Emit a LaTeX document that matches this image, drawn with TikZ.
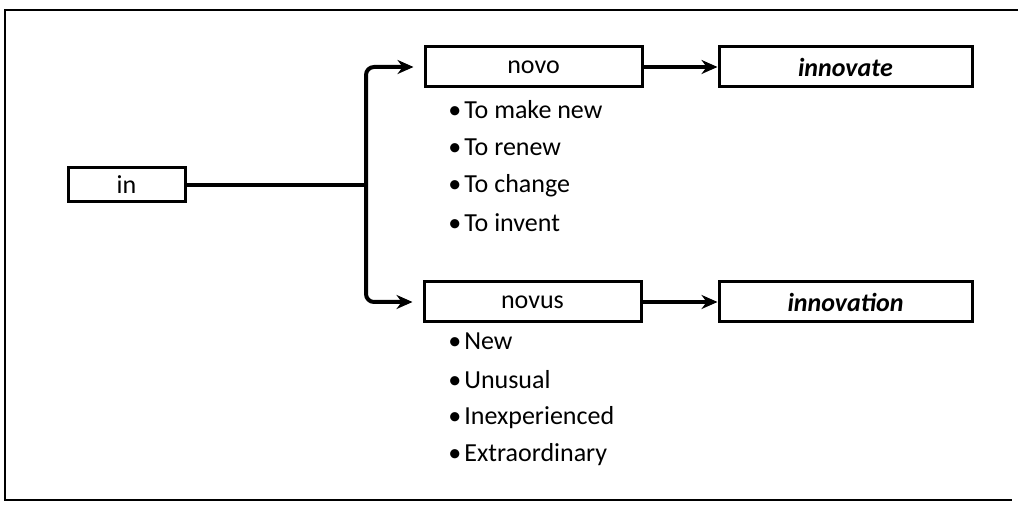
\documentclass[tikz,border=0pt]{standalone}
\usepackage{fontspec}
\setmainfont{Carlito}
\usepackage{tikz}
\usetikzlibrary{positioning,arrows.meta}

\tikzset{
  wordbox/.style={draw, line width=1.5pt, inner sep=0pt, minimum height=20pt,
    font=\fontsize{13}{15}\selectfont},
  link/.style={line width=2pt, -{Stealth[length=8pt,width=7pt]}},
  item/.style={anchor=west, inner sep=0pt, font=\fontsize{13}{15}\selectfont},
}

\begin{document}
\begin{tikzpicture}[x=0.5pt,y=-0.5pt]
\useasboundingbox (0,0) rectangle (1018,507);
% frame
\draw[line width=1pt] (1018,10) -- (5,10) -- (5,500) -- (1012,500);

% boxes
\node[wordbox, minimum width=58.5pt, minimum height=17pt] (in) at (126.5,185) {in};
\node[wordbox, minimum width=108.5pt] (novo) at (533.5,67) {novo};
\node[wordbox, minimum width=126.5pt] (innovate) at (845.5,67) {\textbf{\textit{innovate}}};
\node[wordbox, minimum width=108.5pt] (novus) at (532.5,302) {novus};
\node[wordbox, minimum width=126.5pt] (innovation) at (845.5,302) {\textbf{\textit{innovation}}};

% connectors
\coordinate (split) at (366,185);
\draw[line width=2pt] (in.east) -- (split);
\draw[link, rounded corners=4pt] (split) |- ([xshift=-5pt]novo.west);
\draw[link, rounded corners=4pt] (split) |- ([xshift=-5pt]novus.west);
\draw[link] (novo) -- (innovate);
\draw[link] (novus) -- (innovation);

% meanings
\foreach \txt [count=\i] in {To make new, To renew, To change, To invent}
  \node[item] (novoItem\i) at (448,{72.3+37.7*\i}) {\textbullet\hspace{1.5pt}\txt};
\foreach \txt [count=\i] in {New, Unusual, Inexperienced, Extraordinary}
  \node[item] (novusItem\i) at (448,{304+37.7*\i}) {\textbullet\hspace{1.5pt}\txt};
\end{tikzpicture}
\end{document}
